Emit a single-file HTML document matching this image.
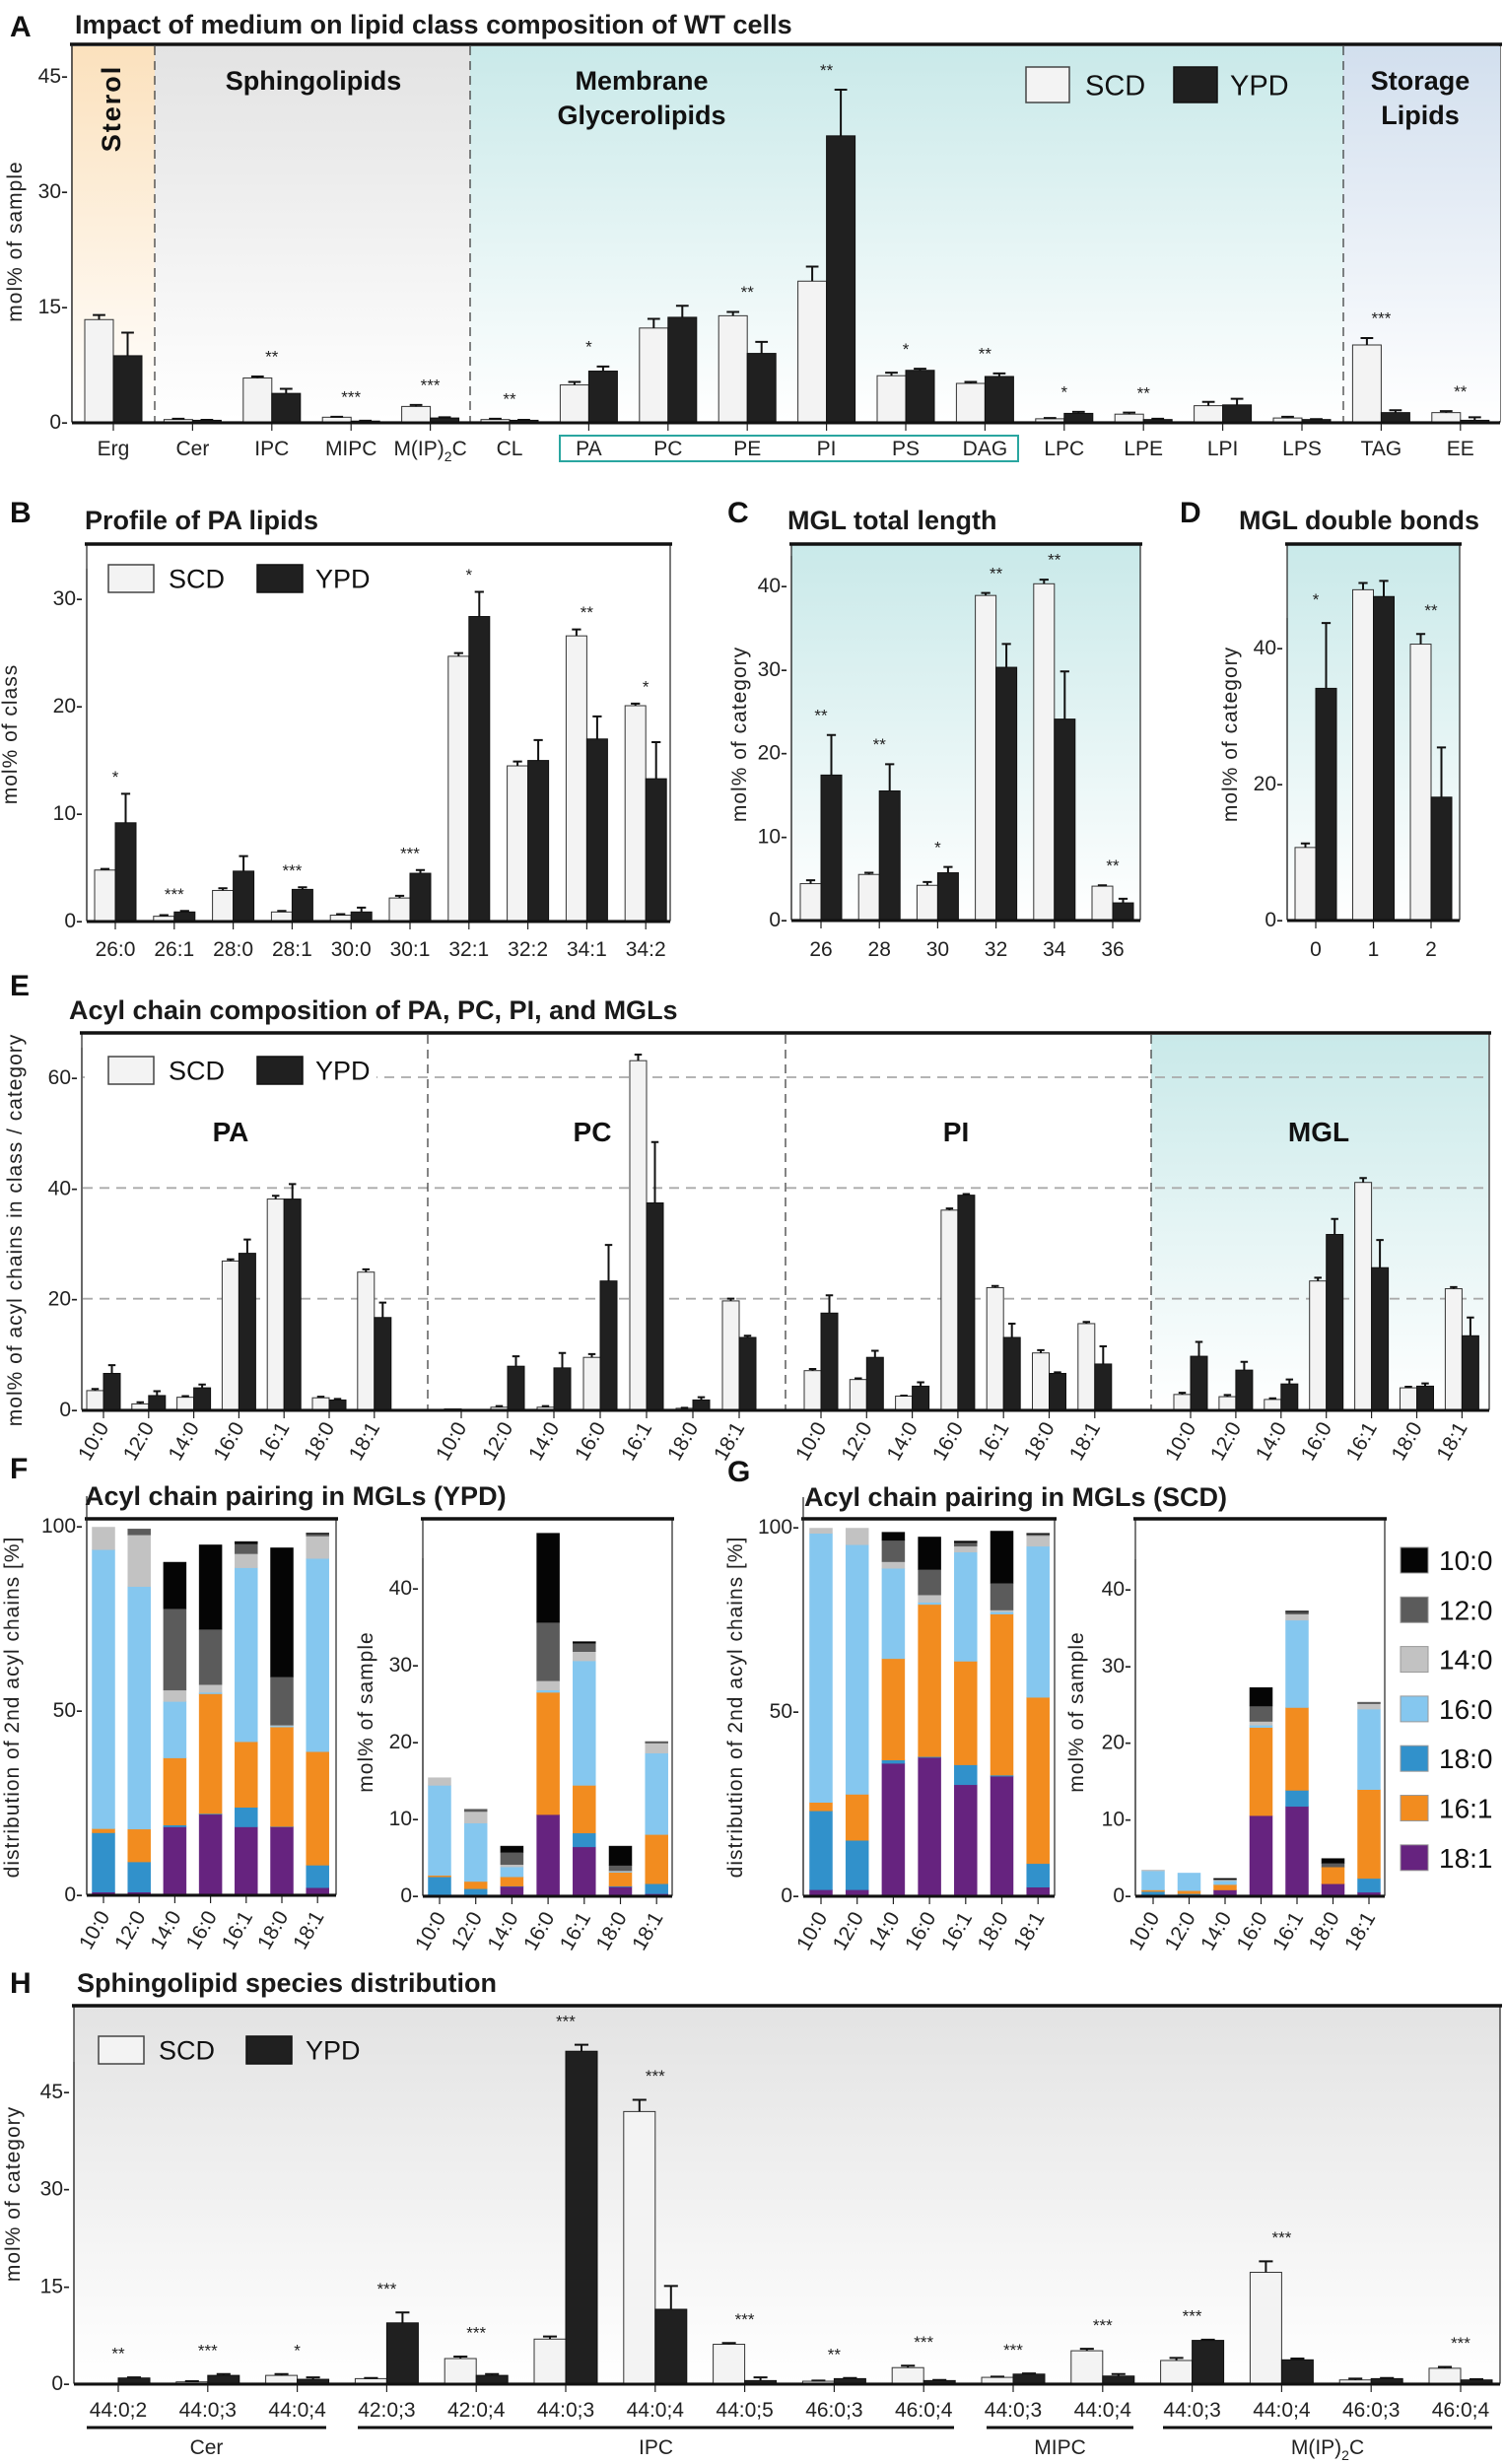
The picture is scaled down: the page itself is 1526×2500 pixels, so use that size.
<!DOCTYPE html>
<html><head><meta charset="utf-8">
<style>
html,body{margin:0;padding:0;background:#fff;}
svg{display:block;font-family:"Liberation Sans",Arial,sans-serif;}
.ttl{font-weight:bold;font-size:27px;fill:#1a1a1a;}
.pl{font-weight:bold;font-size:30px;fill:#111;}
.tk{font-size:21px;fill:#222;font-family:"Liberation Sans Narrow","Liberation Sans",sans-serif;}
.yl{font-size:21px;fill:#222;letter-spacing:1px;}
.st{font-size:17px;fill:#222;}
</style></head>
<body>
<svg id="fig" xmlns="http://www.w3.org/2000/svg" width="1526" height="2500" viewBox="0 0 1526 2500">
<defs>
<linearGradient id="gOr" x1="0" y1="0" x2="0" y2="1"><stop offset="0" stop-color="#fbe1bd"/><stop offset="1" stop-color="#fff"/></linearGradient>
<linearGradient id="gGr" x1="0" y1="0" x2="0" y2="1"><stop offset="0" stop-color="#e3e3e3"/><stop offset="1" stop-color="#fff"/></linearGradient>
<linearGradient id="gTe" x1="0" y1="0" x2="0" y2="1"><stop offset="0" stop-color="#c9e9e9"/><stop offset="1" stop-color="#fff"/></linearGradient>
<linearGradient id="gBl" x1="0" y1="0" x2="0" y2="1"><stop offset="0" stop-color="#d2dfee"/><stop offset="1" stop-color="#fff"/></linearGradient>
</defs>
</svg>
<script>
// ---------- Panel A data ----------
const aCats = ['Erg','Cer','IPC','MIPC','M(IP)2C','CL','PA','PC','PE','PI','PS','DAG','LPC','LPE','LPI','LPS','TAG','EE'];
const aScd = [13.3,0.3,5.7,0.6,2.0,0.3,4.8,12.2,13.8,18.3,6.0,5.0,0.4,1.0,2.1,0.5,10.0,1.2];
const aYpd = [8.6,0.2,3.7,0.1,0.5,0.2,6.6,13.6,8.9,37.2,6.7,5.9,1.1,0.3,2.2,0.3,1.2,0.2];
const aScdErr = [0.6,0.1,0.2,0.05,0.2,0.1,0.4,1.2,0.5,1.9,0.4,0.2,0.1,0.2,0.5,0.15,0.9,0.2];
const aYpdErr = [3.0,0.05,0.6,0.05,0.1,0.05,0.6,1.5,1.5,6.0,0.2,0.4,0.2,0.1,0.8,0.05,0.3,0.4];
const aStars = ['','','**','***','***','**','*','','**','**','*','**','*','**','','','***','**'];
const aTicks = [0,15,30,45];
// ---------- Panel B data ----------
const bCats = ['26:0','26:1','28:0','28:1','30:0','30:1','32:1','32:2','34:1','34:2'];
const bScd = [4.7,0.4,2.8,0.8,0.5,2.1,24.6,14.4,26.5,20.0];
const bYpd = [9.1,0.8,4.6,2.9,0.8,4.4,28.3,14.9,16.9,13.2];
const bScdErr = [0.1,0.1,0.2,0.1,0.1,0.2,0.3,0.4,0.6,0.2];
const bYpdErr = [2.7,0.1,1.4,0.2,0.4,0.3,2.3,1.9,2.1,3.4];
const bStars = ['*','***','','***','','***','*','','**','*'];
const bTicks = [0,10,20,30];
// ---------- Panel C data ----------
const cCats = ['26','28','30','32','34','36'];
const cScd = [4.3,5.4,4.1,38.8,40.2,4.0];
const cYpd = [17.3,15.4,5.6,30.2,24.0,2.0];
const cScdErr = [0.4,0.2,0.4,0.3,0.5,0.1];
const cYpdErr = [4.8,3.2,0.7,2.8,5.7,0.5];
const cStars = ['**','**','*','**','**','**'];
const cTicks = [0,10,20,30,40];
// ---------- Panel D data ----------
const dCats = ['0','1','2'];
const dScd = [10.6,48.5,40.5];
const dYpd = [34.0,47.5,18.0];
const dScdErr = [0.6,1.0,1.5];
const dYpdErr = [9.6,2.3,7.3];
const dStars = ['*','','**'];
const dTicks = [0,20,40];
// ---------- Panel E data ----------
const eCats = ['10:0','12:0','14:0','16:0','16:1','18:0','18:1'];
const eGroups = ['PA','PC','PI','MGL'];
const ePAscd = [3.4,1.0,2.2,26.8,38.0,2.1,24.8];
const ePAypd = [6.5,2.5,3.9,28.2,38.0,1.7,16.6];
const ePAscdErr = [0.3,0.3,0.2,0.3,0.6,0.2,0.5];
const ePAypdErr = [1.5,0.8,0.6,2.5,2.7,0.2,2.7];
const ePCscd = [0.1,0.4,0.4,9.4,63.0,0.2,19.6];
const ePCypd = [0.0,7.8,7.5,23.2,37.3,1.7,13.0];
const ePCscdErr = [0.0,0.2,0.2,0.6,1.1,0.1,0.4];
const ePCypdErr = [0.0,1.8,2.7,6.5,11.0,0.5,0.3];
const ePIscd = [7.0,5.4,2.4,36.0,22.0,10.2,15.5];
const ePIypd = [17.4,9.4,4.2,38.7,13.0,6.5,8.2];
const ePIscdErr = [0.3,0.2,0.1,0.3,0.3,0.5,0.3];
const ePIypdErr = [3.2,1.2,0.7,0.2,2.5,0.2,3.2];
const eMGLscd = [2.7,2.3,1.8,23.2,41.0,3.9,21.8];
const eMGLypd = [9.6,7.1,4.6,31.6,25.6,4.2,13.3];
const eMGLscdErr = [0.3,0.3,0.2,0.6,0.8,0.2,0.3];
const eMGLypdErr = [2.6,1.5,0.8,2.8,5.0,0.5,3.3];
const eTicks = [0,20,40,60];
// ---------- Panels F/G data (stack segments, bottom to top) ----------
const fgCats = ['10:0','12:0','14:0','16:0','16:1','18:0','18:1'];
const species = ['18:1','18:0','16:1','16:0','14:0','12:0','10:0'];
const speciesColors = ['#66237f','#3191cb','#f28c1f','#85c7ef','#c2c2c2','#5b5b5b','#050505'];
const legendOrder = ['10:0','12:0','14:0','16:0','18:0','16:1','18:1'];
// F left (% distribution, YPD)
const fL_18_1 = [0.6,0.6,18.3,21.7,18.3,18.3,1.8];
const fL_16_1 = [1.1,8.9,18.2,32.5,17.8,27.0,30.8];
const fL_18_0 = [16.1,8.2,0.5,0.2,5.3,0.1,6.1];
const fL_16_0 = [75.7,65.8,15.3,0.4,47.2,0.3,52.4];
const fL_14_0 = [6.1,14.0,3.1,2.1,3.8,0.2,6.1];
const fL_12_0 = [0,1.6,22.1,15.0,2.7,13.1,0.6];
const fL_10_0 = [0,0,12.6,22.9,0.6,35.0,0.2];
// F right (mol% of sample, YPD)
const fR_18_1 = [0.1,0.1,1.15,10.5,6.3,1.1,0.2];
const fR_16_1 = [0.2,0.95,1.2,15.9,6.2,1.8,6.4];
const fR_18_0 = [2.3,0.75,0.05,0,1.8,0.1,1.3];
const fR_16_0 = [11.7,7.6,1.3,0.3,16.2,0.1,10.6];
const fR_14_0 = [1.0,1.5,0.3,1.2,1.2,0.1,1.3];
const fR_12_0 = [0,0.3,1.6,7.6,1.1,0.7,0.2];
const fR_10_0 = [0,0,0.8,11.6,0.2,2.5,0];
// G left (% distribution, SCD)
const gL_18_1 = [1.5,1.5,35.8,37.4,30.0,32.3,2.2];
const gL_16_1 = [2.3,12.5,27.5,41.3,28.1,43.7,45.1];
const gL_18_0 = [21.4,13.4,0.9,0.2,5.4,0.3,6.4];
const gL_16_0 = [73.0,67.7,24.5,0.6,29.6,0.6,41.0];
const gL_14_0 = [1.4,4.5,1.8,2.0,1.6,0.5,2.9];
const gL_12_0 = [0,0,5.8,6.9,1.0,7.3,0.4];
const gL_10_0 = [0,0,2.2,8.8,0.4,14.1,0.2];
// G right (mol% of sample, SCD)
const gR_18_1 = [0.1,0,0.7,10.4,11.6,1.5,0.4];
const gR_16_1 = [0.2,0.4,0.7,11.5,10.8,2.2,11.6];
const gR_18_0 = [0.4,0.2,0,0,2.1,0,1.8];
const gR_16_0 = [2.5,2.3,0.5,0.3,11.4,0,10.5];
const gR_14_0 = [0.1,0,0.15,0.5,0.8,0,0.7];
const gR_12_0 = [0,0,0,2.0,0.3,0.5,0.2];
const gR_10_0 = [0,0,0.15,2.4,0.1,0.6,0];
const pctTicks = [0,50,100];
const molTicks = [0,10,20,30,40];
// ---------- Panel H data ----------
const hCats = ['44:0;2','44:0;3','44:0;4','42:0;3','42:0;4','44:0;3','44:0;4','44:0;5','46:0;3','46:0;4','44:0;3','44:0;4','44:0;3','44:0;4','46:0;3','46:0;4'];
const hScd = [0,0.2,1.2,0.7,3.8,6.8,41.9,6.0,0.3,2.4,0.9,5.0,3.5,17.1,0.5,2.3];
const hYpd = [0.8,1.2,0.6,9.3,1.2,51.2,11.4,0.4,0.7,0.4,1.4,1.1,6.6,3.6,0.7,0.5];
const hScdErr = [0,0.1,0.2,0.1,0.3,0.4,1.8,0.2,0.1,0.3,0.1,0.3,0.4,1.7,0.2,0.2];
const hYpdErr = [0.1,0.2,0.3,1.6,0.2,1.0,3.6,0.5,0.1,0.1,0.1,0.3,0.1,0.2,0.1,0.1];
const hStars = ['**','***','*','***','***','***','***','***','**','***','***','***','***','***','','***'];
const hGroups = ['Cer','IPC','MIPC','M(IP)2C'];
const hTicks = [0,15,30,45];

const NS = 'http://www.w3.org/2000/svg';
const svg = document.getElementById('fig');
function mk(tag, attrs, parent){
  const e = document.createElementNS(NS, tag);
  for (const k in attrs) e.setAttribute(k, attrs[k]);
  (parent || svg).appendChild(e);
  return e;
}
function tx(x, y, s, cls, extra, parent){
  const e = mk('text', Object.assign({x:x, y:y, class:cls}, extra||{}), parent);
  e.textContent = s;
  return e;
}
function lin(v0, p0, v1, p1){ return v => p0 + (v - v0) * (p1 - p0) / (v1 - v0); }
function sub2(parent, x, y, main, subs, cls, anchor){
  const t = mk('text', {x:x, y:y, class:cls, 'text-anchor':anchor||'middle'}, parent);
  const a = document.createElementNS(NS,'tspan'); a.textContent = main; t.appendChild(a);
  const b = document.createElementNS(NS,'tspan'); b.textContent = '2'; b.setAttribute('dy','6'); b.setAttribute('font-size','14'); t.appendChild(b);
  const c = document.createElementNS(NS,'tspan'); c.textContent = subs; c.setAttribute('dy','-6'); t.appendChild(c);
  return t;
}
function catLabel(parent, x, y, s, cls, anchor, transform){
  if (s.indexOf('M(IP)2C') === 0) return sub2(parent, x, y, 'M(IP)', 'C', cls, anchor);
  const ex = {'text-anchor': anchor || 'middle'};
  if (transform) ex.transform = transform;
  return tx(x, y, s, cls, ex, parent);
}
function frame(g, x0, x1, top, bottom, fill){
  const bg = mk('rect', {x:x0, y:top, width:x1-x0, height:bottom-top, fill:fill||'#fff', stroke:'#222', 'stroke-width':1.2}, g);
  
  
  const tl = mk('line', {x1:x0-2, x2:x1+2, y1:top, y2:top, stroke:'#111', 'stroke-width':3.5}, g);
  
  
}
function yAxis(g, x, y, ticks, x1){
  const ax = mk('line', {x1:x, x2:x, y1:y(ticks[ticks.length-1])-30, y2:y(0), stroke:'#222', 'stroke-width':1.2}, g);
  
  
  ticks.forEach(t => {
    const tl = tx(x-4, y(t)+7, t + '-', 'tk', {'text-anchor':'end'}, g);
    
    
  });
  const bx = mk('line', {x1:x, x2:x1, y1:y(0)+1, y2:y(0)+1, stroke:'#111', 'stroke-width':3}, g);
  
  
}
function yTitle(g, x, y, s){
  const t = tx(x, y, s, 'yl', {'text-anchor':'middle', transform:'rotate(-90 '+x+' '+y+')'}, g);
  
  
  return t;
}
function bars(g, cx, y, bw, scd, ypd, se, ye, stars, starOff){
  for (let i = 0; i < scd.length; i++){
    const c = cx(i);
    const r1 = mk('rect', {x:c-bw, y:y(scd[i]), width:bw, height:Math.max(0.5, y(0)-y(scd[i])), fill:'#f3f3f3', stroke:'#333', 'stroke-width':1}, g);
    
    
    const r2 = mk('rect', {x:c, y:y(ypd[i]), width:bw, height:Math.max(0.5, y(0)-y(ypd[i])), fill:'#202020', stroke:'#111', 'stroke-width':1}, g);
    
    
    [[c-bw/2, scd[i], se[i]], [c+bw/2, ypd[i], ye[i]]].forEach(([ex, v, e]) => {
      if (e <= 0) return;
      const l = mk('path', {d:'M'+ex+' '+y(v)+'V'+y(v+e)+'M'+(ex-bw*0.22)+' '+y(v+e)+'H'+(ex+bw*0.22), stroke:'#111', 'stroke-width':2, fill:'none'}, g);
      
      
    });
    const tk = mk('line', {x1:c, x2:c, y1:y(0), y2:y(0)+9, stroke:'#222', 'stroke-width':1.2}, g);
    
    
    if (stars && stars[i]){
      const top = Math.max(scd[i]+se[i], ypd[i]+ye[i]);
      const s = tx(c, y(top+starOff)+6, stars[i], 'st', {'text-anchor':'middle'}, g);
      
      
    }
  }
}
function legend2(g, x, y, w, h, tx1, x2, tx2, fs){
  const a = mk('rect', {x:x, y:y, width:w, height:h, fill:'#f3f3f3', stroke:'#444', 'stroke-width':1.5}, g);
  
  
  const at = tx(tx1, y+h/2+fs*0.36, 'SCD', '', {'font-size':fs, fill:'#111'}, g);
  
  
  const b = mk('rect', {x:x2, y:y, width:w, height:h, fill:'#202020', stroke:'#111', 'stroke-width':1.5}, g);
  
  
  const bt = tx(tx2, y+h/2+fs*0.36, 'YPD', '', {'font-size':fs, fill:'#111'}, g);
  
  
}
function panelTitle(g, lx, ly, letter, x, y, s){
  const l = tx(lx, ly, letter, 'pl', {}, g);
  
  
  const t = tx(x, y, s, 'ttl', {}, g);
  
  
}

// ================= Panel A =================
const gA = mk('g', {});


panelTitle(gA, 10, 37, 'A', 76, 34, 'Impact of medium on lipid class composition of WT cells');
const yA = lin(0, 428, 45, 77);
frame(gA, 73, 1522, 45, 428);
[[73,157,'url(#gOr)'],[157,477,'url(#gGr)'],[477,1363,'url(#gTe)'],[1363,1522,'url(#gBl)']].forEach(([a,b,f]) => {
  const r = mk('rect', {x:a, y:47, width:b-a, height:380, fill:f}, gA);
  
  
});
[157,477,1363].forEach(x => {
  const d = mk('line', {x1:x, x2:x, y1:47, y2:428, stroke:'#333', 'stroke-width':1.2, 'stroke-dasharray':'9 6'}, gA);
  
  
});
const stA = tx(0, 0, 'Sterol', '', {'font-size':27, 'font-weight':'bold', fill:'#111', 'text-anchor':'middle', transform:'translate(122 110) rotate(-90)', 'letter-spacing':'2'}, gA);


[['Sphingolipids',318,91],['Membrane',651,91],['Glycerolipids',651,126],['Storage',1441,91],['Lipids',1441,126]].forEach(([s,x,y]) => {
  const t = tx(x, y, s, '', {'font-size':27, 'font-weight':'bold', fill:'#111', 'text-anchor':'middle'}, gA);
  
  
});
legend2(gA, 1041, 68, 44, 36, 1101, 1191, 1248, 29);
const cxA = i => 115 + i * 80.4;
bars(gA, cxA, yA, 29, aScd, aYpd, aScdErr, aYpdErr, aStars, 2.6);
yAxis(gA, 73, yA, aTicks, 1522);
mk('line', {x1:73, x2:73, y1:45, y2:428, stroke:'#222', 'stroke-width':1.2}, gA);
yTitle(gA, 22, 245, 'mol% of sample');
aCats.forEach((c, i) => {
  const t = catLabel(gA, cxA(i), 462, c, 'tk', 'middle');
  
  
});
const boxA = mk('rect', {x:568, y:442, width:465, height:26, fill:'none', stroke:'#2aa6a0', 'stroke-width':2}, gA);



// ================= Panel B =================
const gB = mk('g', {});


panelTitle(gB, 10, 530, 'B', 86, 537, 'Profile of PA lipids');
const yB = lin(0, 934, 30, 607);
frame(gB, 88, 680, 552, 934);
const cxB = i => 117 + i * 59.8;
bars(gB, cxB, yB, 21, bScd, bYpd, bScdErr, bYpdErr, bStars, 1.6);
yAxis(gB, 88, yB, bTicks, 680);
legend2(gB, 110, 573, 46, 28, 171, 261, 320, 27);
yTitle(gB, 17, 745, 'mol% of class');
bCats.forEach((c, i) => {
  const t = catLabel(gB, cxB(i), 970, c, 'tk', 'middle');
  
  
});

// ================= Panel C =================
const gC = mk('g', {});


panelTitle(gC, 738, 530, 'C', 799, 537, 'MGL total length');
const yC = lin(0, 933, 40, 594);
frame(gC, 803, 1157, 552, 933, 'url(#gTe)');
const cxC = i => 833 + i * 59.2;
bars(gC, cxC, yC, 21, cScd, cYpd, cScdErr, cYpdErr, cStars, 2.4);
yAxis(gC, 803, yC, cTicks, 1157);
yTitle(gC, 757, 745, 'mol% of category');
cCats.forEach((c, i) => {
  const t = catLabel(gC, cxC(i), 970, c, 'tk', 'middle');
  
  
});

// ================= Panel D =================
const gD = mk('g', {});


panelTitle(gD, 1197, 530, 'D', 1257, 537, 'MGL double bonds');
const yD = lin(0, 933, 40, 657);
frame(gD, 1306, 1481, 552, 933, 'url(#gTe)');
const cxD = i => 1335 + i * 58.5;
bars(gD, cxD, yD, 21, dScd, dYpd, dScdErr, dYpdErr, dStars, 3.5);
yAxis(gD, 1306, yD, dTicks, 1481);
yTitle(gD, 1255, 745, 'mol% of category');
dCats.forEach((c, i) => {
  const t = catLabel(gD, cxD(i), 970, c, 'tk', 'middle');
  
  
});

// ================= Panel E =================
const gE = mk('g', {});


panelTitle(gE, 10, 1010, 'E', 70, 1034, 'Acyl chain composition of PA, PC, PI, and MGLs');
const yE = lin(0, 1430, 60, 1093);
frame(gE, 83, 1511, 1048, 1430);
const mglBg = mk('rect', {x:1168, y:1050, width:342, height:380, fill:'url(#gTe)'}, gE);


eTicks.slice(1).forEach(t => {
  const gl = mk('line', {x1:84, x2:1510, y1:yE(t), y2:yE(t), stroke:'#aaa', 'stroke-width':1.8, 'stroke-dasharray':'10 7'}, gE);
  
  
});
const legBgE = mk('rect', {x:86, y:1070, width:296, height:48, fill:'#fff'}, gE);


[434,797,1168].forEach(x => {
  const d = mk('line', {x1:x, x2:x, y1:1050, y2:1430, stroke:'#333', 'stroke-width':1.2, 'stroke-dasharray':'9 6'}, gE);
  
  
});
const eData = [[ePAscd,ePAypd,ePAscdErr,ePAypdErr],[ePCscd,ePCypd,ePCscdErr,ePCypdErr],[ePIscd,ePIypd,ePIscdErr,ePIypdErr],[eMGLscd,eMGLypd,eMGLscdErr,eMGLypdErr]];
const eStart = [105,468,833,1208];
const eStep = [45.8,47,46.3,45.9];
const eLabelX = [234,601,970,1338];
eGroups.forEach((gname, k) => {
  const cx = i => eStart[k] + i * eStep[k];
  bars(gE, cx, yE, 17, eData[k][0], eData[k][1], eData[k][2], eData[k][3], null, 0);
  const gl = tx(eLabelX[k], 1158, gname, '', {'font-size':28, 'font-weight':'bold', fill:'#111', 'text-anchor':'middle'}, gE);
  
  
  eCats.forEach((c, i) => {
    const x = cx(i) + 6, y = 1448;
    const t = tx(x, y, c, 'tk', {'text-anchor':'end', transform:'rotate(-60 '+x+' '+y+')'}, gE);
    
    
  });
});
yAxis(gE, 83, yE, eTicks, 1511);
legend2(gE, 110, 1072, 46, 28, 171, 261, 320, 27);
yTitle(gE, 22, 1248, 'mol% of acyl chains in class / category');

// ================= Panels F & G =================
function stacked(g, cx, y, bw, series, cats){
  for (let i = 0; i < cats.length; i++){
    let acc = 0;
    series.forEach((arr, s) => {
      const v = arr[i];
      if (v > 0){
        const r = mk('rect', {x:cx(i)-bw/2, y:y(acc+v), width:bw, height:y(acc)-y(acc+v), fill:speciesColors[s], stroke:speciesColors[s], 'stroke-width':0.5}, g);
        
        
      }
      acc += v;
    });
    const tk = mk('line', {x1:cx(i), x2:cx(i), y1:y(0), y2:y(0)+9, stroke:'#222', 'stroke-width':1.2}, g);
    
    
    const x = cx(i) + 7, yy = y(0) + 22;
    const t = tx(x, yy, cats[i], 'tk', {'text-anchor':'end', transform:'rotate(-60 '+x+' '+yy+')'}, g);
    
    
  }
}
const gF = mk('g', {});


panelTitle(gF, 10, 1500, 'F', 86, 1527, 'Acyl chain pairing in MGLs (YPD)');
const yFL = lin(0, 1922, 100, 1548);
frame(gF, 88, 341, 1541, 1922);
stacked(gF, i => 105 + i * 36.2, yFL, 23, [fL_18_1,fL_18_0,fL_16_1,fL_16_0,fL_14_0,fL_12_0,fL_10_0], fgCats);
yAxis(gF, 88, yFL, pctTicks, 341);
yTitle(gF, 19, 1732, 'distribution of 2nd acyl chains [%]');
const yFR = lin(0, 1923, 40, 1611);
frame(gF, 429, 682, 1541, 1923);
stacked(gF, i => 446 + i * 36.7, yFR, 23, [fR_18_1,fR_18_0,fR_16_1,fR_16_0,fR_14_0,fR_12_0,fR_10_0], fgCats);
yAxis(gF, 429, yFR, molTicks, 682);
yTitle(gF, 378, 1737, 'mol% of sample');

const gG = mk('g', {});


panelTitle(gG, 738, 1503, 'G', 816, 1528, 'Acyl chain pairing in MGLs (SCD)');
const yGL = lin(0, 1923, 100, 1549);
frame(gG, 815, 1070, 1541, 1923);
stacked(gG, i => 833 + i * 36.7, yGL, 23, [gL_18_1,gL_18_0,gL_16_1,gL_16_0,gL_14_0,gL_12_0,gL_10_0], fgCats);
yAxis(gG, 815, yGL, pctTicks, 1070);
yTitle(gG, 753, 1732, 'distribution of 2nd acyl chains [%]');
const yGR = lin(0, 1923, 40, 1612);
frame(gG, 1152, 1405, 1541, 1923);
stacked(gG, i => 1170 + i * 36.5, yGR, 23, [gR_18_1,gR_18_0,gR_16_1,gR_16_0,gR_14_0,gR_12_0,gR_10_0], fgCats);
yAxis(gG, 1152, yGR, molTicks, 1405);
yTitle(gG, 1099, 1737, 'mol% of sample');
legendOrder.forEach((sp, k) => {
  const s = species.indexOf(sp);
  const y = 1570 + k * 50.3;
  const sw = mk('rect', {x:1421, y:y, width:28, height:26, fill:speciesColors[s], stroke:'#999', 'stroke-width':1}, gG);
  
  
  const t = tx(1460, y + 23, sp, '', {'font-size':28, fill:'#111'}, gG);
  
  
});

// ================= Panel H =================
const gH = mk('g', {});


panelTitle(gH, 10, 2022, 'H', 78, 2021, 'Sphingolipid species distribution');
const yH = lin(0, 2418, 45, 2122);
frame(gH, 75, 1522, 2035, 2418, 'url(#gGr)');
const cxH = i => 120 + i * 90.8;
bars(gH, cxH, yH, 32, hScd, hYpd, hScdErr, hYpdErr, hStars, 3.7);
yAxis(gH, 75, yH, hTicks, 1522);
legend2(gH, 100, 2066, 46, 28, 161, 250, 310, 27);
yTitle(gH, 20, 2226, 'mol% of category');
hCats.forEach((c, i) => {
  const t = catLabel(gH, cxH(i), 2452, c, 'tk', 'middle');
  
  
});
const hGx0 = [88,363,1001,1180];
const hGx1 = [331,968,1150,1514];
hGroups.forEach((gname, k) => {
  const l = mk('line', {x1:hGx0[k], x2:hGx1[k], y1:2463, y2:2463, stroke:'#111', 'stroke-width':3}, gH);
  
  
  const t = catLabel(gH, (hGx0[k]+hGx1[k])/2, 2490, gname, 'tk', 'middle');
  
  
});
</script>
</body></html>
